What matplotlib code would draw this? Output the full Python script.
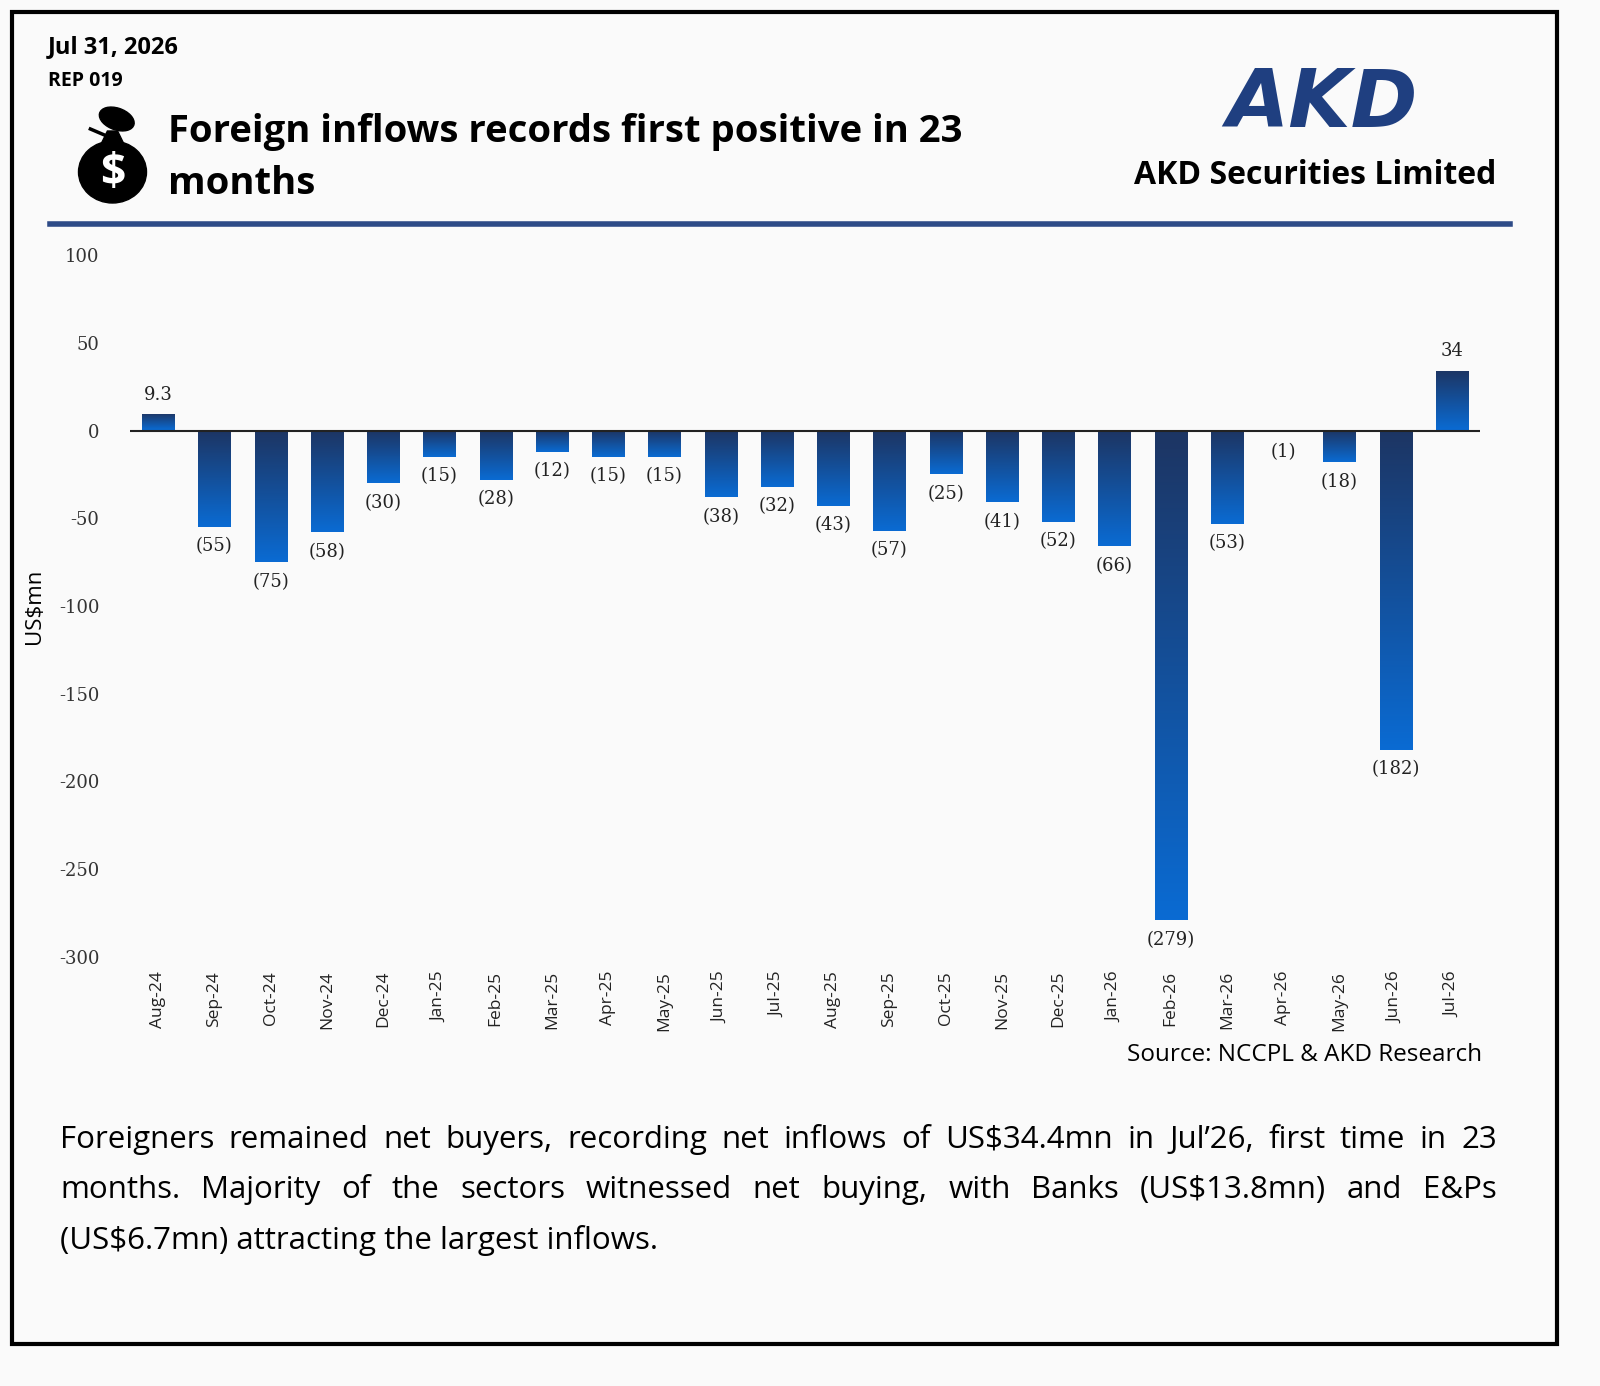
import matplotlib
matplotlib.use("Agg")
import matplotlib.pyplot as plt
import numpy as np
from matplotlib.colors import LinearSegmentedColormap
from matplotlib.patches import Rectangle, Ellipse, Polygon

plt.rcParams['font.family'] = ['Open Sans', 'DejaVu Sans']

months = ["Aug-24","Sep-24","Oct-24","Nov-24","Dec-24","Jan-25","Feb-25","Mar-25","Apr-25","May-25",
          "Jun-25","Jul-25","Aug-25","Sep-25","Oct-25","Nov-25","Dec-25","Jan-26","Feb-26","Mar-26",
          "Apr-26","May-26","Jun-26","Jul-26"]
values = [9.3,-55,-75,-58,-30,-15,-28,-12,-15,-15,-38,-32,-43,-57,-25,-41,-52,-66,-279,-53,-1,-18,-182,34]
labels = ["9.3","(55)","(75)","(58)","(30)","(15)","(28)","(12)","(15)","(15)","(38)","(32)","(43)","(57)",
          "(25)","(41)","(52)","(66)","(279)","(53)","(1)","(18)","(182)","34"]
yticks = [100,50,0,-50,-100,-150,-200,-250,-300]

W, H = 1600, 1386
fig = plt.figure(figsize=(16, 13.86), dpi=100)
fig.patch.set_facecolor("#fafafa")

fig.add_artist(Rectangle((12/W, 1-1344/H), (1557-12)/W, (1344-12)/H, transform=fig.transFigure,
                         fill=False, lw=3, ec="black"))

fig.text(48/W, 1-47/H, "Jul 31, 2026", fontsize=17, weight="bold", va="center")
fig.text(48/W, 1-81/H, "REP 019", fontsize=14, weight="bold", va="center")
fig.text(168/W, 1-132/H, "Foreign inflows records first positive in 23", fontsize=27.5, weight="bold", va="center")
fig.text(168/W, 1-184/H, "months", fontsize=27.5, weight="bold", va="center")

ia = fig.add_axes([70/W, 1-205/H, 85/W, 100/H]); ia.axis("off")
ia.set_xlim(0, 1); ia.set_ylim(0, 1)
ia.add_patch(Ellipse((0.5, 0.33), 0.8, 0.62, color="black"))
ia.add_patch(Polygon([[0.36, 0.6], [0.64, 0.6], [0.56, 0.74], [0.44, 0.74]], color="black"))
ia.add_patch(Ellipse((0.55, 0.86), 0.42, 0.22, angle=-15, color="black"))
ia.plot([0.24, 0.46], [0.76, 0.68], color="black", lw=2.5)
ia.text(0.5, 0.32, "$", color="white", fontsize=32, weight="bold", ha="center", va="center")

fig.text(1322/W, 1-105/H, "AKD", fontsize=58, weight="bold", style="italic", color="#1f3f80",
         ha="center", va="center", family="DejaVu Sans")
fig.text(1315/W, 1-176/H, "AKD Securities Limited", fontsize=23, weight="bold", ha="center", va="center")

fig.add_artist(plt.Line2D([50/W, 1510/W], [1-224/H]*2, color="#2e4b87", lw=4))

ax = fig.add_axes([130/W, 1-957/H, 1350/W, (957-255)/H])
ax.set_facecolor("#fafafa")
ax.set_xlim(-0.5, len(months)-0.5)
ax.set_ylim(-300, 100)
for s in ax.spines.values():
    s.set_visible(False)
ax.set_yticks(yticks)
ax.set_yticklabels([str(t) for t in yticks], fontsize=13, color="#333333", family="DejaVu Serif")
ax.tick_params(axis="y", length=0, pad=22)
ax.set_xticks(range(len(months)))
ax.set_xticklabels(months, rotation=90, fontsize=12.5, color="#222222")
ax.tick_params(axis="x", length=0, pad=10)
ax.set_ylabel("US$mn", fontsize=16, labelpad=10)

cmap = LinearSegmentedColormap.from_list("g", ["#1d3563", "#0a6bd3"])
grad = np.linspace(0, 1, 256).reshape(-1, 1)
w = 0.57
bars = ax.bar(range(len(values)), values, width=w, color="none")
for i, (v, b) in enumerate(zip(values, bars)):
    top, bot = max(v, 0), min(v, 0)
    im = ax.imshow(grad, cmap=cmap, extent=[i-w/2, i+w/2, bot, top], aspect="auto", origin="upper", zorder=2)
    im.set_clip_path(b)
    kw = dict(ha="center", fontsize=13, color="#222222", family="DejaVu Serif")
    if v >= 0:
        ax.text(i, v+6, labels[i], va="bottom", **kw)
    else:
        ax.text(i, v-6, labels[i], va="top", **kw)
ax.axhline(0, color="#222222", lw=1.5, zorder=3)

fig.text(1482/W, 1-1055/H, "Source: NCCPL & AKD Research", fontsize=17.5, ha="right", va="center")

body = [("Foreigners remained net buyers, recording net inflows of US$34.4mn in Jul\u201926, first time in 23", True),
        ("months. Majority of the sectors witnessed net buying, with Banks (US$13.8mn) and E&Ps", True),
        ("(US$6.7mn) attracting the largest inflows.", False)]
r = fig.canvas.get_renderer()
for k, (line, just) in enumerate(body):
    y = 1-(1140+50*k)/H
    if just:
        words = line.split(" ")
        ts = [fig.text(0, y, wd, fontsize=22.5, va="center") for wd in words]
        widths = [t.get_window_extent(r).width for t in ts]
        gap = (1497-60-sum(widths))/(len(words)-1)
        x = 60
        for t, wd in zip(ts, widths):
            t.set_x(x/W); x += wd+gap
    else:
        fig.text(60/W, y, line, fontsize=22.5, va="center")

fig.savefig("out.png", dpi=100, facecolor=fig.get_facecolor())
